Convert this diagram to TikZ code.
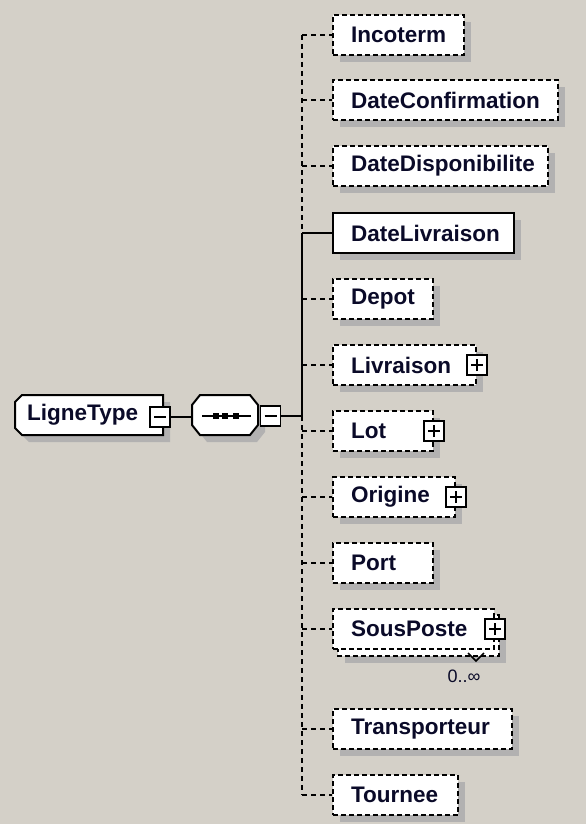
\documentclass[tikz,border=0pt]{standalone}
\usepackage{fontspec}
\setmainfont{Liberation Sans}
\usetikzlibrary{shadows}
\definecolor{bgc}{RGB}{212,208,200}
\definecolor{shc}{RGB}{178,177,177}
\definecolor{txc}{RGB}{10,10,40}
\begin{document}
\begin{tikzpicture}[x=1pt,y=-1pt,
  elemfont/.style={font=\fontsize{22.5}{24}\selectfont\bfseries},
  shad/.style={drop shadow={shadow xshift=7pt,shadow yshift=-7pt,fill=shc,opacity=1}},
  elembase/.style={draw, line width=2pt, dash pattern=on 5pt off 3pt, fill=white,
    anchor=west, minimum height=40, inner xsep=18, inner ysep=0, align=left,
    text=txc, elemfont},
  elem/.style={elembase, shad},
  solidelem/.style={elem, solid},
  conn/.style={line width=2pt, dash pattern=on 5pt off 4pt},
  sconn/.style={line width=2pt, solid},
  pm/.style={draw, solid, fill=white, line width=1.6pt, minimum size=20, inner sep=0},
  plusicon/.style={pm, path picture={\draw[line width=1.6pt]
     ([xshift=-6pt]path picture bounding box.center) -- ([xshift=6pt]path picture bounding box.center)
     ([yshift=-6pt]path picture bounding box.center) -- ([yshift=6pt]path picture bounding box.center);}},
  minusicon/.style={pm, path picture={\draw[line width=1.6pt]
     ([xshift=-6pt]path picture bounding box.center) -- ([xshift=6pt]path picture bounding box.center);}}
]
\fill[bgc] (0,0) rectangle (586,824);
\useasboundingbox (0,0) rectangle (586,824);

% root element (chamfered on the left)
\fill[shc, shift={(7,7)}] (22,395) -- (163,395) -- (163,435) -- (22,435) -- (15,428) -- (15,402) -- cycle;
\draw[line width=2pt, fill=white] (22,395) -- (163,395) -- (163,435) -- (22,435) -- (15,428) -- (15,402) -- cycle;
\node[anchor=west, inner sep=0, text=txc, elemfont] (ligne) at (27,415) {LigneType};
\node[minusicon] (lignem) at (160,417) {};

% sequence compositor (octagon)
\fill[shc, shift={(7,7)}] (200,395) -- (250,395) -- (258,405) -- (258,425) -- (250,435) -- (200,435) -- (192,425) -- (192,405) -- cycle;
\draw[line width=2pt, fill=white] (200,395) -- (250,395) -- (258,405) -- (258,425) -- (250,435) -- (200,435) -- (192,425) -- (192,405) -- cycle;
\node[minimum width=66, minimum height=40, inner sep=0] (seq) at (225,415) {};
\draw[line width=2pt] (202,416) -- (251,416);
\foreach \cx in {215.5,225,236} \fill (\cx-3,413) rectangle (\cx+3,419);
\node[minusicon] (seqm) at (270.5,416) {};

\draw[sconn] (lignem.east) -- (seq.west |- lignem.east);
\draw[sconn] (seqm.east) -- (302,416) coordinate (tk);

% child elements
\node[elem, text width=95] (incoterm) at (332,35) {Incoterm};
\node[elem, text width=189] (dateconf) at (332,100) {DateConfirmation};
\node[elem, text width=179] (datedispo) at (332,166) {DateDisponibilite};
\node[solidelem, text width=145] (datelivr) at (332,233) {DateLivraison};
\node[elem, text width=64] (depot) at (332,299) {Depot};
\node[elem, text width=107] (livraison) at (332,365) {Livraison};
\node[plusicon] (livp) at (livraison.east) {};
\node[elem, text width=64] (lot) at (332,431) {Lot};
\node[plusicon] (lotp) at (lot.east) {};
\node[elem, text width=86] (origine) at (332,497) {Origine};
\node[plusicon] (origp) at (origine.east) {};
\node[elem, text width=64] (port) at (332,563) {Port};
% stacked (repeating) element
\fill[shc] (345,622) rectangle (506,663);
\draw[line width=2pt, dash pattern=on 5pt off 3pt, fill=white] (338,615) rectangle (499,656);
\node[elembase, text width=125] (souspo) at (332,629) {SousPoste};
\node[plusicon] (sousp) at (souspo.east) {};
\draw[line width=1.5pt, solid] (468,653) -- (476,661) -- (484,653);
\node[font=\fontsize{18}{20}\selectfont, text=txc, inner sep=0] (card) at (464,676) {0..∞};
\node[elem, text width=143] (transp) at (332,729) {Transporteur};
\node[elem, text width=89] (tournee) at (332,795) {Tournee};

% trunk
\draw[conn] (tk |- incoterm.west) -- (tk |- datelivr.west);
\draw[sconn] (tk |- datelivr.west) -- (tk);
\draw[conn] (tk) -- (tk |- tournee.west);

% branches
\foreach \n in {incoterm,dateconf,datedispo,depot,livraison,lot,origine,port,souspo,transp,tournee}
  \draw[conn] (tk |- \n.west) -- (\n.west);
\draw[sconn] (tk |- datelivr.west) -- (datelivr.west);
\end{tikzpicture}
\end{document}
